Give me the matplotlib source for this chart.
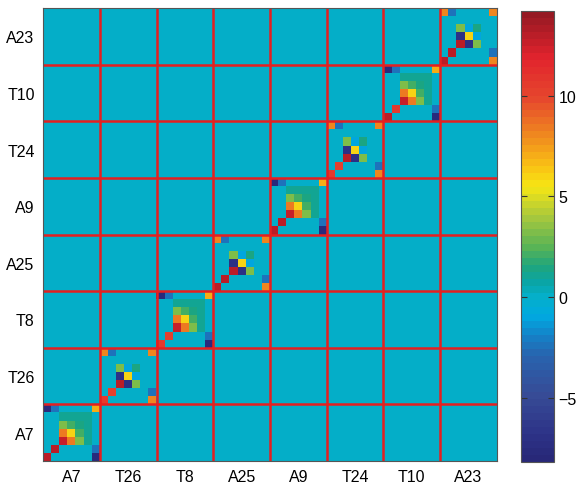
import numpy as np
import matplotlib
matplotlib.use("Agg")
import matplotlib.pyplot as plt
from matplotlib.colors import LinearSegmentedColormap

plt.rcParams['font.family'] = ['Liberation Sans', 'DejaVu Sans']

# block labels, bottom to top / left to right
labels = ["A7", "T26", "T8", "A25", "A9", "T24", "T10", "A23"]
# which pattern each diagonal block uses
block_type = ["P", "Q", "P", "Q", "P", "Q", "P", "Q"]
# first two diagonal entries of each block
diag0 = [13.0, 10.5, 10.5, 13.0, 13.0, 10.5, 13.0, 13.0]
diag1 = [13.0, 10.0, 10.0, 13.0, 13.0, 10.0, 10.5, 13.0]

# 7x7 block patterns, row 0 = bottom row of the block
pattern_p = [
    [0,    0,    0,    0,    0,    0,   -7.5],
    [0,    0,    0,    0,    0,    0,   -2.5],
    [0,    0,   12.5,  8.5,  3.0,  1.2,  0],
    [0,    0,    8.5,  6.0,  2.0,  1.2,  0],
    [0,    0,    3.0,  2.0,  1.5,  1.2,  0],
    [0,    0,    1.2,  1.2,  1.2,  1.0,  0],
    [-7.5, -2.5, 0,    0,    0,    0,    7.0],
]
pattern_q = [
    [0,    0,    0,    0,    0,    0,    8.0],
    [0,    0,    0,    0,    0,    0,   -2.5],
    [0,    0,   13.0, -7.0,  3.0,  0,    0],
    [0,    0,   -7.0,  6.0, -1.0,  0,    0],
    [0,    0,    3.0, -1.0,  1.5,  0,    0],
    [0,    0,    0,    0,    0,    0,    0],
    [8.0, -2.5,  0,    0,    0,    0,    8.0],
]

nb = len(labels)
bs = 7
M = np.zeros((nb * bs, nb * bs))
for b in range(nb):
    blk = np.array(pattern_p if block_type[b] == "P" else pattern_q, dtype=float)
    blk[0, 0] = diag0[b]
    blk[1, 1] = diag1[b]
    M[b*bs:(b+1)*bs, b*bs:(b+1)*bs] = blk

# muted jet-like colormap
cb_vals = [-8.2, -7, -5, -3, -2, -1, 0, 0.7, 1.5, 2.5, 4, 5.5, 6.5, 8, 10, 12, 14.2]
cb_rgb = [(40, 40, 120), (45, 50, 135), (55, 75, 150), (40, 100, 175), (20, 130, 200),
          (0, 170, 225), (5, 175, 200), (10, 165, 165), (30, 165, 125), (90, 180, 85),
          (170, 200, 60), (245, 230, 20), (250, 195, 20), (240, 140, 30), (230, 70, 45),
          (225, 35, 45), (150, 25, 35)]
vmin, vmax = cb_vals[0], cb_vals[-1]
pos = [(v - vmin) / (vmax - vmin) for v in cb_vals]
cmap = LinearSegmentedColormap.from_list(
    "mjet", list(zip(pos, [tuple(c / 255 for c in rgb) for rgb in cb_rgb])), N=64)

fig = plt.figure(figsize=(5.79, 4.85), dpi=100)
ax = fig.add_axes([0.0743, 0.0474, 0.784, 0.934])
cax = fig.add_axes([0.900, 0.0454, 0.057, 0.930])

n = nb * bs
im = ax.imshow(M, cmap=cmap, vmin=vmin, vmax=vmax, origin="lower",
               extent=[0, n, 0, n], aspect="auto", interpolation="nearest")
red = (0.9, 0.12, 0.12)
for k in range(1, nb):
    ax.axhline(k * bs, color=red, lw=1.8)
    ax.axvline(k * bs, color=red, lw=1.8)

centers = [b * bs + bs / 2 for b in range(nb)]
ax.set_xticks(centers)
ax.set_xticklabels(labels, fontsize=11.5)
ax.set_yticks(centers)
ax.set_yticklabels(labels, fontsize=11.5)
ax.tick_params(length=0, pad=6)
for s in ax.spines.values():
    s.set_color("#555555")
    s.set_linewidth(0.8)

cb = fig.colorbar(im, cax=cax)
cb.set_ticks([-5, 0, 5, 10])
cb.ax.set_yticklabels(["\u22125", "0", "5", "10"])
cb.ax.tick_params(labelsize=11.5, direction="in", length=4, left=True, right=True,
                  color="#333333", pad=3)
cb.outline.set_edgecolor("#555555")
cb.outline.set_linewidth(0.8)

fig.savefig("out.png", dpi=100)
